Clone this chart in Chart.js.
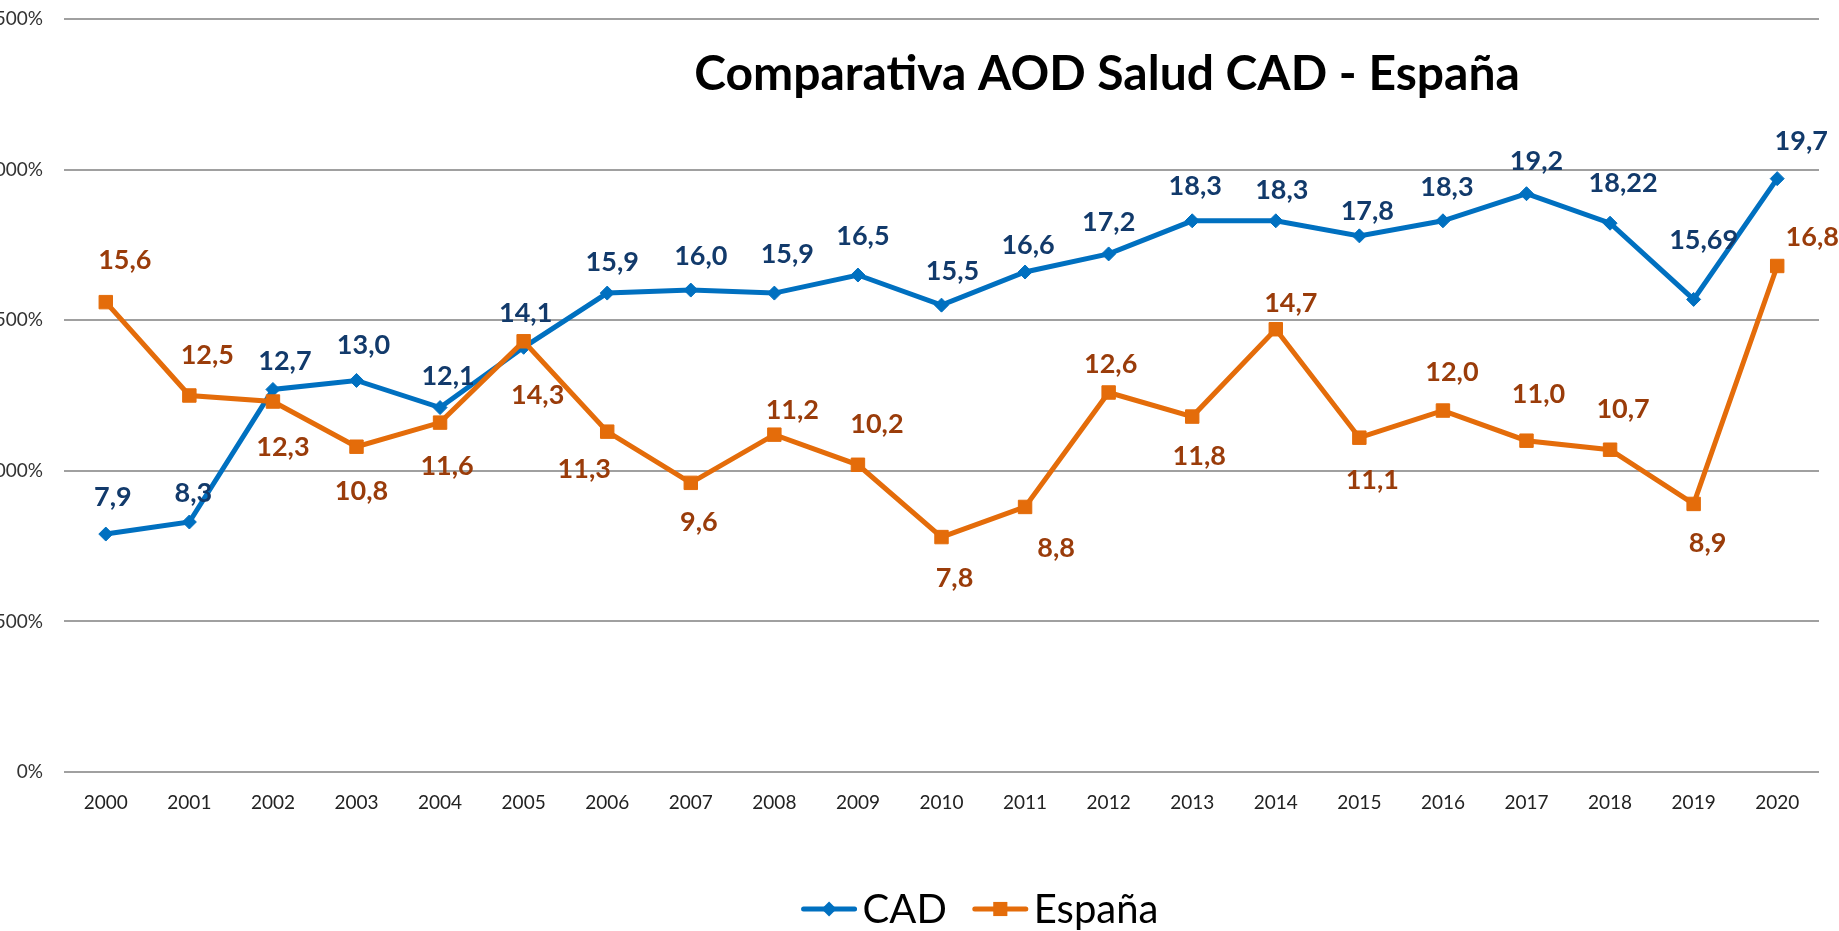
<!DOCTYPE html>
<html>
<head>
<meta charset="utf-8">
<script src="https://cdn.jsdelivr.net/npm/chart.js@4.4.1/dist/chart.umd.min.js"></script>
<style>
  html, body { margin: 0; padding: 0; background: #fff; overflow: hidden; }
  #wrap { position: relative; width: 1839px; height: 931px; overflow: hidden; }
  /* shifted left so the long y labels get cut off like in the original */
  #chart { position: absolute; left: -40px; top: 0; }
</style>
</head>
<body>
<div id="wrap"><canvas id="chart" width="1879" height="931"></canvas></div>
<script>
const years = ['2000', '2001', '2002', '2003', '2004', '2005', '2006', '2007', '2008', '2009', '2010',
  '2011', '2012', '2013', '2014', '2015', '2016', '2017', '2018', '2019', '2020'];
const cadValues = [7.9, 8.3, 12.7, 13.0, 12.1, 14.1, 15.9, 16.0, 15.9, 16.5, 15.5,
  16.6, 17.2, 18.3, 18.3, 17.8, 18.3, 19.2, 18.22, 15.69, 19.7];
const espanaValues = [15.6, 12.5, 12.3, 10.8, 11.6, 14.3, 11.3, 9.6, 11.2, 10.2, 7.8,
  8.8, 12.6, 11.8, 14.7, 11.1, 12.0, 11.0, 10.7, 8.9, 16.8];
const seriesNames = ['CAD', 'España'];
const chartTitle = 'Comparativa AOD Salud CAD - España';

// hand-placed label nudges [dx, dy] from the point, as in the original
const cadLabelPos = [[7, -38], [4, -30], [12, -29], [7, -36], [8, -33], [2, -35], [5, -32], [10, -35],
  [13, -40], [5, -40], [11, -35], [3, -28], [0, -33], [3, -36], [6, -32], [8, -26], [4, -35],
  [10, -34], [13, -41], [10, -60], [24, -39]];
const espanaLabelPos = [[19, -43], [18, -42], [10, 44], [5, 43], [7, 42], [14, 53], [-23, 36], [8, 38],
  [18, -26], [19, -42], [13, 40], [31, 40], [2, -29], [7, 38], [15, -27], [13, 41], [9, -40],
  [12, -48], [13, -42], [14, 38], [35, -30]];

const fmt = (v) => {
  const s = String(v);
  return (s.includes('.') ? s : v.toFixed(1)).replace('.', ',');
};

// data labels (no datalabels plugin available)
const valueLabels = {
  id: 'valueLabels',
  afterDatasetsDraw(chart) {
    const ctx = chart.ctx;
    ctx.save();
    ctx.font = 'bold 27px Lato';
    ctx.textAlign = 'center';
    ctx.textBaseline = 'alphabetic';
    chart.data.datasets.forEach((ds, i) => {
      const meta = chart.getDatasetMeta(i);
      ctx.fillStyle = ds.labelColor;
      meta.data.forEach((pt, j) => {
        const [dx, dy] = ds.labelPos[j];
        ctx.fillText(fmt(ds.data[j]), pt.x + dx, pt.y + dy + 10);
      });
    });
    ctx.restore();
  }
};

function drawMarker(ctx, style, x, y, r) {
  ctx.beginPath();
  if (style === 'rectRot') {
    ctx.moveTo(x, y - r);
    ctx.lineTo(x + r, y);
    ctx.lineTo(x, y + r);
    ctx.lineTo(x - r, y);
  } else {
    const h = r * Math.SQRT1_2;
    ctx.rect(x - h, y - h, 2 * h, 2 * h);
  }
  ctx.closePath();
  ctx.fill();
}

// title sits inside the plot area and the legend is off-centre, so draw both here
const titleAndLegend = {
  id: 'titleAndLegend',
  afterDraw(chart) {
    const ctx = chart.ctx;
    ctx.save();
    ctx.fillStyle = '#000';
    ctx.font = 'bold 48px Lato';
    ctx.textAlign = 'center';
    ctx.textBaseline = 'alphabetic';
    ctx.fillText(chartTitle, 1147, 90);

    ctx.font = '40px Lato';
    ctx.textAlign = 'left';
    const lineLen = 55, gapText = 6, gapItem = 26;
    const items = chart.data.datasets.map(ds => ({ ds, w: ctx.measureText(ds.label).width }));
    const total = items.reduce((s, it) => s + lineLen + gapText + it.w, 0) + gapItem * (items.length - 1);
    let x = 1020 - total / 2;
    const y = 909;
    items.forEach(({ ds, w }) => {
      ctx.strokeStyle = ds.borderColor;
      ctx.lineWidth = 5;
      ctx.lineCap = 'round';
      ctx.beginPath();
      ctx.moveTo(x + 2, y);
      ctx.lineTo(x + lineLen - 2, y);
      ctx.stroke();
      ctx.fillStyle = ds.pointBackgroundColor;
      drawMarker(ctx, ds.pointStyle, x + lineLen / 2, y, ds.pointRadius + 0.5);
      ctx.fillStyle = '#000';
      ctx.fillText(ds.label, x + lineLen + gapText, y + 14);
      x += lineLen + gapText + w + gapItem;
    });
    ctx.restore();
  }
};

Chart.defaults.font.family = 'Lato';

new Chart(document.getElementById('chart'), {
  type: 'line',
  data: {
    labels: years,
    datasets: [
      {
        label: seriesNames[0],
        data: cadValues,
        borderColor: '#0070C0',
        backgroundColor: '#0070C0',
        pointBackgroundColor: '#0070C0',
        pointBorderColor: '#0070C0',
        borderWidth: 5,
        pointStyle: 'rectRot',
        pointRadius: 7,
        pointBorderWidth: 1,
        tension: 0,
        order: 2,
        labelColor: '#123A6B',
        labelPos: cadLabelPos,
      },
      {
        label: seriesNames[1],
        data: espanaValues,
        borderColor: '#E46C0A',
        backgroundColor: '#E46C0A',
        pointBackgroundColor: '#E46C0A',
        pointBorderColor: '#E46C0A',
        borderWidth: 5,
        pointStyle: 'rect',
        pointRadius: 9.5,
        pointBorderWidth: 1,
        tension: 0,
        order: 1,
        labelColor: '#9A3C0A',
        labelPos: espanaLabelPos,
      },
    ],
  },
  options: {
    responsive: false,
    animation: false,
    layout: { padding: { top: 19, right: 20, bottom: 0, left: 0 } },
    plugins: {
      legend: { display: false },
      title: { display: false },
      tooltip: { enabled: false },
    },
    scales: {
      x: {
        offset: true,
        grid: { display: false, drawTicks: false },
        border: { display: false },
        ticks: { color: '#222', font: { size: 19 }, padding: 19, maxRotation: 0 },
        afterFit(scale) { scale.height = 159; },
      },
      y: {
        min: 0,
        max: 25,
        grid: { color: '#a0a0a0', lineWidth: 2, drawTicks: false },
        border: { display: false },
        ticks: {
          stepSize: 5,
          color: '#333',
          font: { size: 19 },
          padding: 21,
          callback: (v) => (v * 100) + '%',
        },
        afterFit(scale) {
          scale.width = 104;
          scale.paddingTop = 0;
          scale.paddingBottom = 0;
        },
      },
    },
  },
  plugins: [valueLabels, titleAndLegend],
});
</script>
</body>
</html>
